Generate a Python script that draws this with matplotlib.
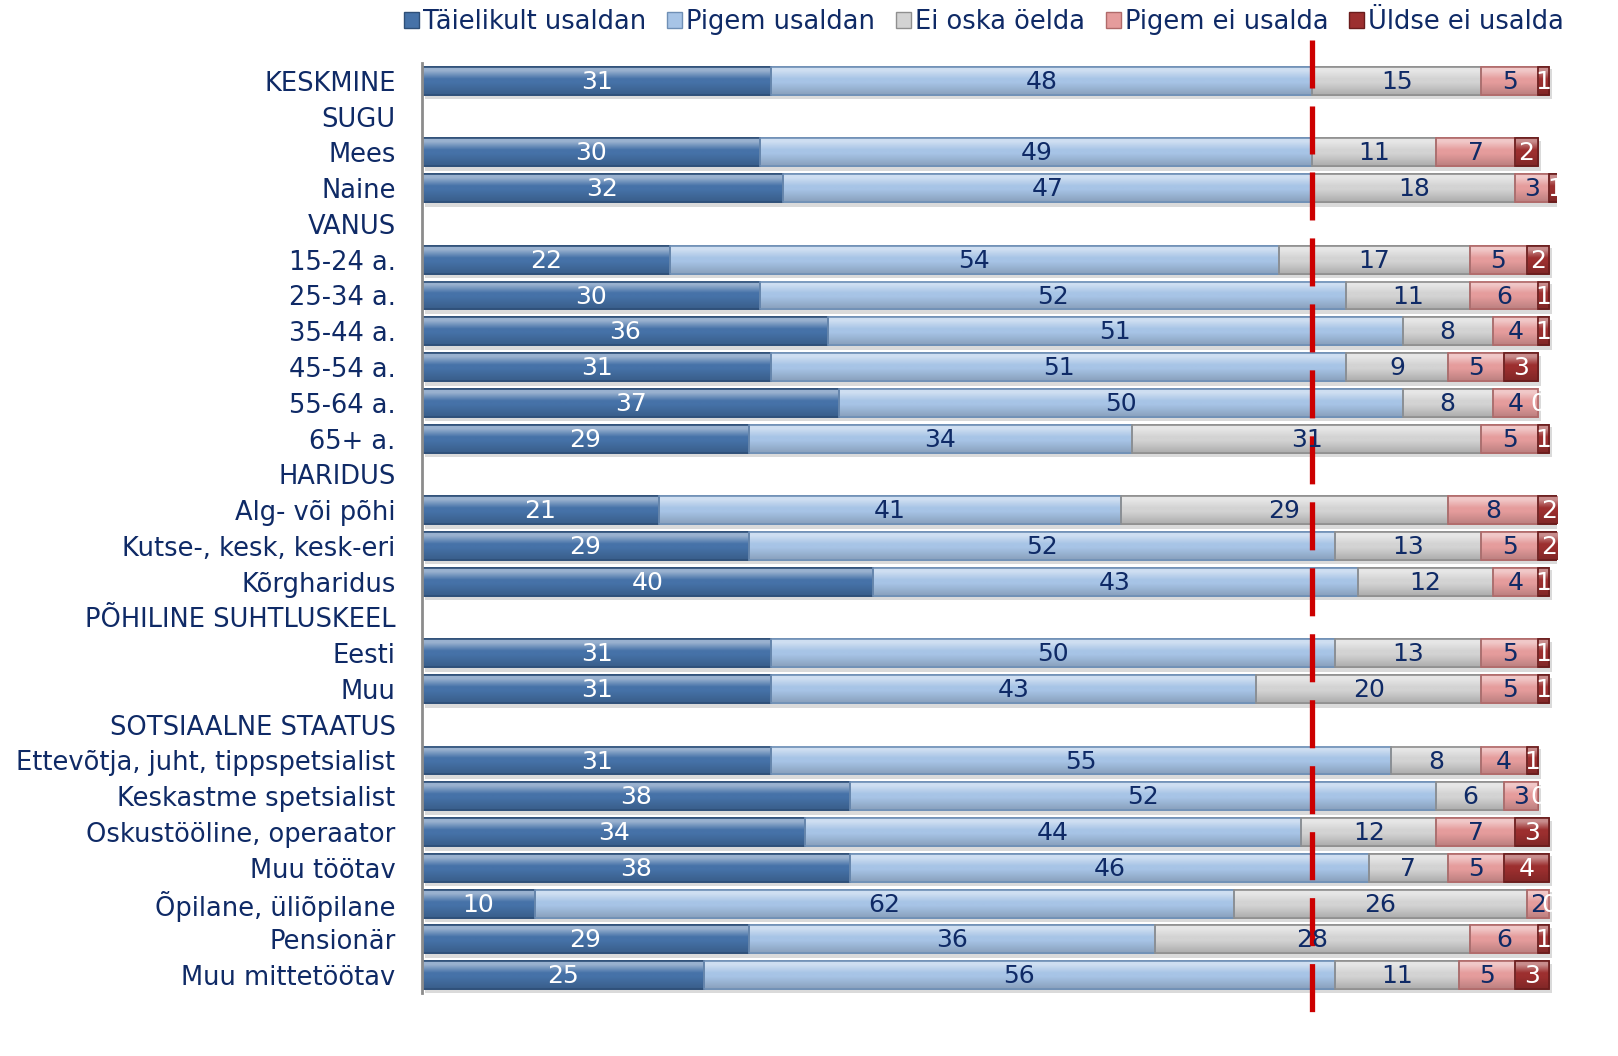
import matplotlib
matplotlib.use('Agg')
import matplotlib.pyplot as plt
from matplotlib.patches import Patch
from matplotlib.colors import to_rgb
import numpy as np

# row labels, top to bottom (headers have no bars)
labels = ['KESKMINE', 'SUGU', 'Mees', 'Naine', 'VANUS', '15-24 a.', '25-34 a.',
          '35-44 a.', '45-54 a.', '55-64 a.', '65+ a.', 'HARIDUS', 'Alg- või põhi',
          'Kutse-, kesk, kesk-eri', 'Kõrgharidus', 'PÕHILINE SUHTLUSKEEL', 'Eesti', 'Muu',
          'SOTSIAALNE STAATUS', 'Ettevõtja, juht, tippspetsialist', 'Keskastme spetsialist',
          'Oskustööline, operaator', 'Muu töötav', 'Õpilane, üliõpilane', 'Pensionär',
          'Muu mittetöötav']

series = ['Täielikult usaldan', 'Pigem usaldan', 'Ei oska öelda', 'Pigem ei usalda', 'Üldse ei usalda']

# None for header rows
taielikult = [31, None, 30, 32, None, 22, 30, 36, 31, 37, 29, None, 21, 29, 40, None, 31, 31, None, 31, 38, 34, 38, 10, 29, 25]
pigem = [48, None, 49, 47, None, 54, 52, 51, 51, 50, 34, None, 41, 52, 43, None, 50, 43, None, 55, 52, 44, 46, 62, 36, 56]
ei_oska = [15, None, 11, 18, None, 17, 11, 8, 9, 8, 31, None, 29, 13, 12, None, 13, 20, None, 8, 6, 12, 7, 26, 28, 11]
pigem_ei = [5, None, 7, 3, None, 5, 6, 4, 5, 4, 5, None, 8, 5, 4, None, 5, 5, None, 4, 3, 7, 5, 2, 6, 5]
uldse_ei = [1, None, 2, 1, None, 2, 1, 1, 3, 0, 1, None, 2, 2, 1, None, 1, 1, None, 1, 0, 3, 4, 0, 1, 3]

keskmine_line = 79  # average "usaldan" share

colors = ['#4672a8', '#a7c4e6', '#d3d3d3', '#e59c9c', '#9c2f2f']
edge_colors = ['#2e4f78', '#6f8fb5', '#8f8f8f', '#b06a6a', '#6a1c1c']
text_colors = ['white', '#0f2a66', '#0f2a66', '#0f2a66', 'white']
navy = '#0f2a66'


def gradient(color, n=40):
    # glossy vertical shading: light band near the top, darker towards the bottom
    c = np.array(to_rgb(color))
    t = np.linspace(0, 1, n)
    light = np.clip(np.where(t < 0.12, 0.45, 0.45 * (1 - (t - 0.12) / 0.3)), 0, None)
    dark = np.clip((t - 0.55) / 0.45, 0, 1) * 0.18
    rgb = c * (1 - light[:, None]) + light[:, None]
    rgb = rgb * (1 - dark[:, None])
    return rgb[:, None, :]


fig = plt.figure(figsize=(16.18, 10.56), dpi=100)
ax = fig.add_axes([422 / 1618, 1 - 993 / 1056, (1557 - 422) / 1618, 930 / 1056])

y = np.arange(len(labels))
data = [taielikult, pigem, ei_oska, pigem_ei, uldse_ei]
bar_h = 0.78

# shadow under bars
for i in range(len(labels)):
    if taielikult[i] is None:
        continue
    total = sum(d[i] for d in data)
    ax.barh(y[i] + 0.1, total, left=0.3, height=bar_h + 0.06, color='#dadada', zorder=1)

left = np.zeros(len(labels))
for k, vals in enumerate(data):
    v = np.array([0 if x is None else x for x in vals], dtype=float)
    mask = np.array([x is not None for x in vals])
    bars = ax.barh(y[mask], v[mask], left=left[mask], height=bar_h, color=colors[k],
                   edgecolor=edge_colors[k], linewidth=1.2, zorder=2)
    grad = gradient(colors[k])
    for b in bars:
        x0, y0, w, h = b.get_x(), b.get_y(), b.get_width(), b.get_height()
        if w <= 0:
            continue
        ax.imshow(grad, extent=(x0, x0 + w, y0 + h, y0), origin='upper', aspect='auto',
                  interpolation='bilinear', zorder=2.5)
        ax.add_patch(plt.Rectangle((x0, y0), w, h, fill=False, edgecolor=edge_colors[k],
                                   linewidth=1.2, zorder=2.6))
    for i in np.where(mask)[0]:
        ax.text(left[i] + v[i] / 2, y[i] + 0.03, f'{int(v[i])}', ha='center', va='center',
                fontsize=18, color=text_colors[k], zorder=5, clip_on=True)
    left = left + v

ax.set_xlim(0, 100.7)
ax.set_ylim(len(labels) - 0.5, -0.5)
ax.set_yticks(y)
ax.set_yticklabels(labels, fontsize=18.5, color=navy)
ax.tick_params(axis='y', length=0, pad=19)
ax.set_xticks([])
for s in ['top', 'right', 'bottom']:
    ax.spines[s].set_visible(False)
ax.spines['left'].set_color('#8c8c8c')
ax.spines['left'].set_linewidth(2)
ax.spines['left'].set_zorder(6)

# red dashed average line, runs past the plot area
ax.plot([keskmine_line, keskmine_line], [-1.15, len(labels) - 0.5 + 0.8], color='#cc0000',
        linewidth=3.8, dashes=(9.1, 3.4), clip_on=False, zorder=4)

handles = [Patch(facecolor=colors[k], edgecolor=edge_colors[k]) for k in range(5)]
fig.legend(handles, series, loc='center', bbox_to_anchor=(984 / 1618, 1 - 22 / 1056), ncol=5,
           frameon=False, fontsize=18.5, handlelength=0.6, handleheight=0.6, handletextpad=0.15,
           columnspacing=0.8, labelcolor=navy)

fig.savefig('out.png', dpi=100)
